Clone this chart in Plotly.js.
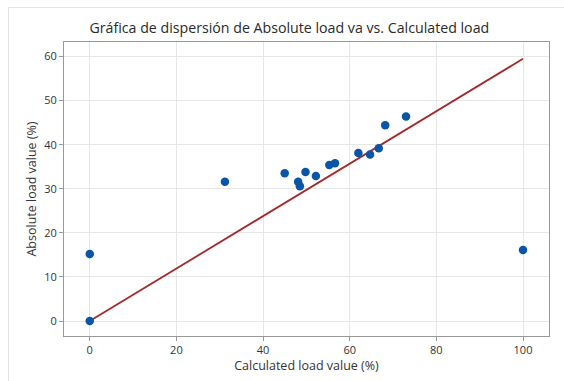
<!DOCTYPE html>
<html>
<head>
<meta charset="utf-8">
<script src="https://cdn.plot.ly/plotly-3.0.1.min.js"></script>
<style>
html,body{margin:0;padding:0;background:#fff;}
#chart{width:564px;height:381px;position:absolute;left:0;top:0;}
#frame{position:absolute;left:8px;top:7px;width:600px;height:400px;border-left:1px solid #e3e3e3;border-top:1px solid #e3e3e3;pointer-events:none;}
</style>
</head>
<body>
<div id="chart"></div>
<div id="frame"></div>
<script>
const calculatedLoad = [0, 0, 31.2, 45.0, 48.1, 48.5, 49.8, 52.2, 55.3, 56.6, 62.0, 64.7, 66.7, 68.2, 73.0, 100];
const absoluteLoad   = [0, 15.2, 31.6, 33.5, 31.6, 30.6, 33.8, 32.9, 35.4, 35.8, 38.1, 37.8, 39.2, 44.4, 46.4, 16.1];
const fitX = [0, 100];
const fitY = [0, 59.5];
const xTicks = [0, 20, 40, 60, 80, 100];
const yTicks = [0, 10, 20, 30, 40, 50, 60];

const font = 'Open Sans, Noto Sans, sans-serif';

const traces = [
  {x: fitX, y: fitY, type: 'scatter', mode: 'lines',
   line: {color: '#a32a2a', width: 1.8}, hoverinfo: 'skip', showlegend: false},
  {x: calculatedLoad, y: absoluteLoad, type: 'scatter', mode: 'markers',
   marker: {color: '#0a55a6', size: 8.5}, showlegend: false}
];

const axisCommon = {
  showgrid: true, gridcolor: '#e6e6e6', gridwidth: 1,
  zeroline: false, showline: true, linecolor: '#999', linewidth: 1, mirror: true,
  ticks: 'outside', ticklen: 4, tickcolor: '#999',
  tickfont: {family: font, size: 11, color: '#333'}
};

const layout = {
  width: 564, height: 381,
  margin: {l: 64, r: 15, t: 42, b: 45},
  paper_bgcolor: '#fff', plot_bgcolor: '#fff',
  title: {text: 'Gráfica de dispersión de Absolute load va vs. Calculated load',
          font: {family: font, size: 14.2, color: '#2a2a2a'}, x: 0.513, xanchor: 'center', y: 0.926, yanchor: 'middle'},
  xaxis: Object.assign({}, axisCommon, {
    range: [-5.94, 106], tickvals: xTicks, ticktext: xTicks.map(String),
    title: {text: 'Calculated load value (%)', font: {family: font, size: 12.5, color: '#333'}, standoff: 5}
  }),
  yaxis: Object.assign({}, axisCommon, {
    range: [-3.4, 63.3], tickvals: yTicks, ticktext: yTicks.map(String),
    title: {text: 'Absolute load value (%)', font: {family: font, size: 12.5, color: '#333'}, standoff: 4}
  })
};

Plotly.newPlot('chart', traces, layout, {displayModeBar: false, staticPlot: true});
</script>
</body>
</html>
